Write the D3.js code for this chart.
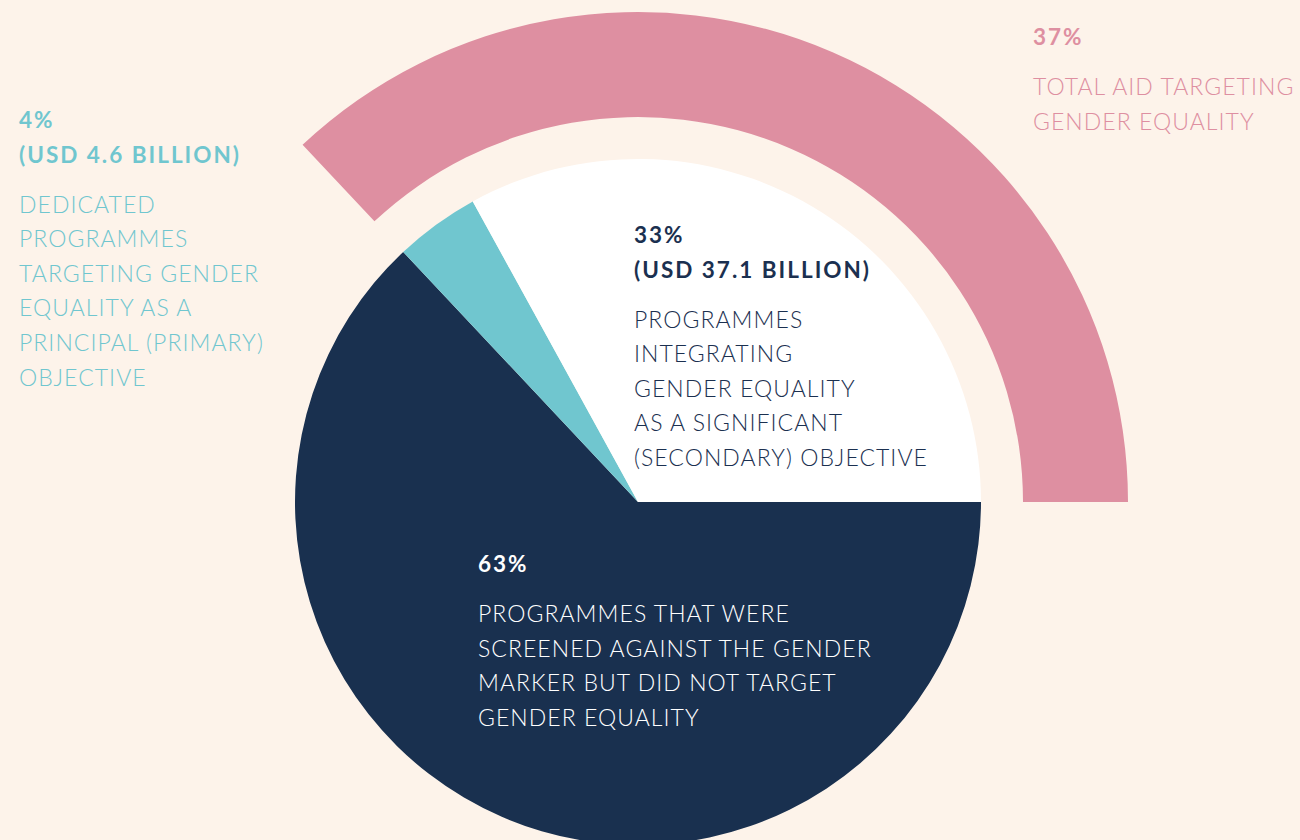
<!DOCTYPE html>
<html>
<head>
<meta charset="utf-8">
<script src="https://cdn.jsdelivr.net/npm/d3@7"></script>
<style>
  html, body { margin: 0; padding: 0; background: #fdf3ea; }
  svg { display: block; }
  text { font-family: Lato, "Open Sans", sans-serif; }
</style>
</head>
<body>
<div id="chart"></div>
<script>
const width = 1300,
      height = 840;

// data
const categories = ["Not targeted", "Principal", "Significant"];
const shares = [63, 4, 33];
const outerCategories = ["Rest", "Total targeting"];
const outerShares = [63, 37];

const colors = ["#19304f", "#70c6cf", "#ffffff"];
const pink = "#de8fa1";

const cx = 638, cy = 502;
const radius = 343;

const svg = d3.select("#chart")
  .append("svg")
  .attr("width", width)
  .attr("height", height);

const g = svg.append("g")
  .attr("transform", `translate(${cx},${cy})`);

const pie = d3.pie()
  .sort(null)
  .startAngle(Math.PI / 2)
  .endAngle(Math.PI / 2 + 2 * Math.PI)
  .value(d => d);

const arc = d3.arc()
  .innerRadius(0)
  .outerRadius(radius);

const outerArc = d3.arc()
  .innerRadius(385)
  .outerRadius(490);

// pie slices
g.selectAll("path.slice")
  .data(pie(shares))
  .join("path")
  .attr("class", "slice")
  .attr("d", arc)
  .attr("fill", (d, i) => colors[i]);

// outer band for total aid targeting gender equality
g.selectAll("path.band")
  .data(pie(outerShares).filter((d, i) => i === 1))
  .join("path")
  .attr("class", "band")
  .attr("d", outerArc)
  .attr("fill", pink);

// labels
const labels = [
  {x: 1033, y: 45, color: pink, bold: ["37%"],
   lines: ["TOTAL AID TARGETING", "GENDER EQUALITY"]},
  {x: 19, y: 128, color: "#70c6cf", bold: ["4%", "(USD 4.6 BILLION)"],
   lines: ["DEDICATED", "PROGRAMMES", "TARGETING GENDER", "EQUALITY AS A", "PRINCIPAL (PRIMARY)", "OBJECTIVE"]},
  {x: 634, y: 243, color: "#1b3050", bold: ["33%", "(USD 37.1 BILLION)"],
   lines: ["PROGRAMMES", "INTEGRATING", "GENDER EQUALITY", "AS A SIGNIFICANT", "(SECONDARY) OBJECTIVE"]},
  {x: 478, y: 572, color: "#ffffff", bold: ["63%"],
   lines: ["PROGRAMMES THAT WERE", "SCREENED AGAINST THE GENDER", "MARKER BUT DID NOT TARGET", "GENDER EQUALITY"]}
];

const step = 34.6;

labels.forEach(l => {
  const t = svg.append("g").attr("fill", l.color);
  l.bold.forEach((s, i) => {
    t.append("text")
      .attr("x", l.x)
      .attr("y", l.y + i * step)
      .attr("font-size", 22.5)
      .attr("font-weight", 700)
      .attr("letter-spacing", 2)
      .text(s);
  });
  const y0 = l.y + (l.bold.length - 1) * step + 50;
  l.lines.forEach((s, i) => {
    t.append("text")
      .attr("x", l.x)
      .attr("y", y0 + i * step)
      .attr("font-size", 23)
      .attr("font-weight", 300)
      .attr("letter-spacing", 1.05)
      .text(s);
  });
});
</script>
</body>
</html>
